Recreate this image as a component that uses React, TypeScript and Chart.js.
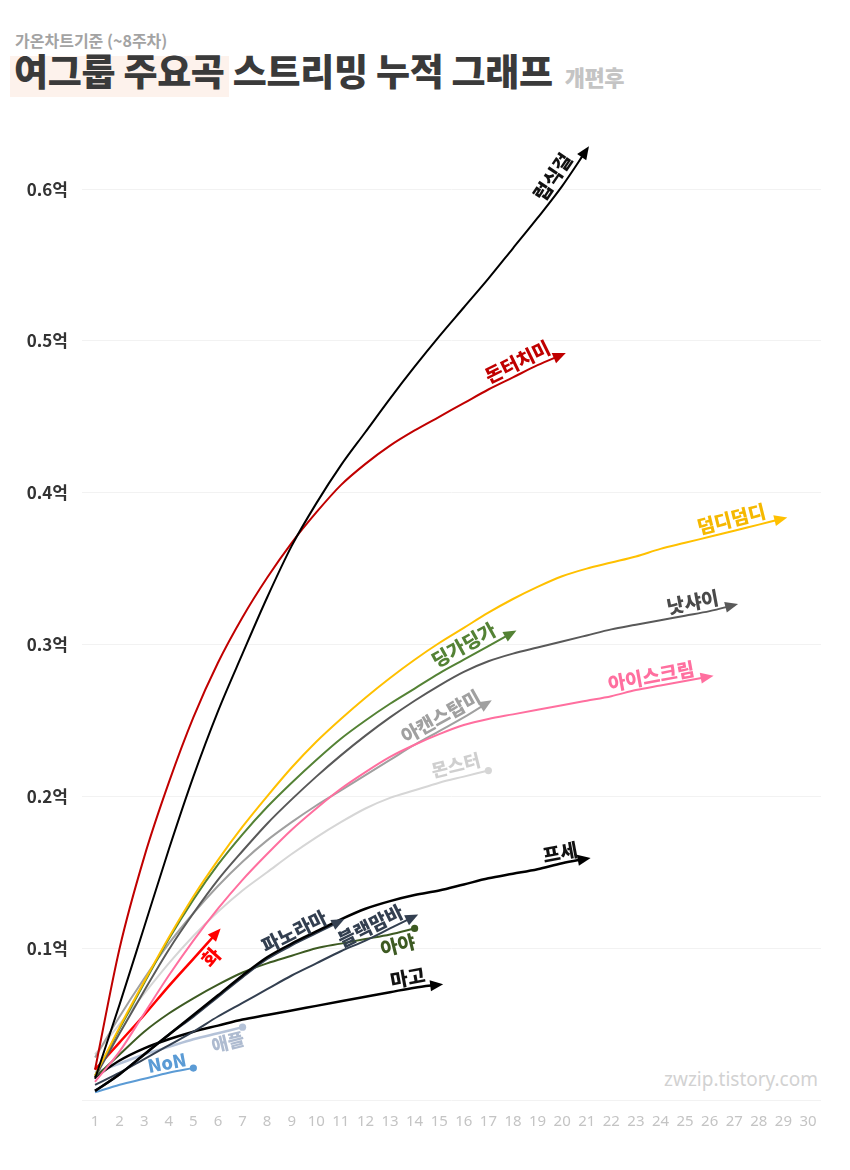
import React, { useEffect, useRef } from "react";
import { Chart, registerables } from "chart.js";

Chart.register(...registerables);

// ---- data (cumulative streams, unit: 억) ----
const weeks = [1, 2, 3, 4, 5, 6, 7, 8, 9, 10, 11, 12, 13, 14, 15, 16, 17, 18, 19, 20, 21, 22, 23, 24, 25, 26, 27, 28, 29, 30];
const yTickValues = [0, 0.1, 0.2, 0.3, 0.4, 0.5, 0.6];

const songNames = ["럽식걸", "돈터치미", "덤디덤디", "낫샤이", "딩가딩가", "아이스크림", "아캔스탑미", "몬스터", "프세", "파노라마", "블랙맘바", "아야", "마고", "화", "애플", "NoN"];

const lovesickGirls = [0.014, 0.063, 0.114, 0.165, 0.213, 0.256, 0.294, 0.331, 0.365, 0.393, 0.418, 0.44, 0.462, 0.483, 0.503, 0.522, 0.541, 0.561, 0.581, 0.602, 0.626];
const dontTouchMe = [0.02, 0.1, 0.16, 0.209, 0.252, 0.288, 0.318, 0.344, 0.367, 0.387, 0.405, 0.419, 0.431, 0.441, 0.45, 0.459, 0.468, 0.476, 0.484, 0.491];
const dumdiDumdi = [0.016, 0.048, 0.078, 0.107, 0.134, 0.158, 0.18, 0.2, 0.219, 0.236, 0.251, 0.265, 0.278, 0.29, 0.301, 0.311, 0.321, 0.33, 0.338, 0.345, 0.35, 0.354, 0.358, 0.363, 0.367, 0.371, 0.375, 0.379, 0.383];
const notShy = [0.015, 0.044, 0.072, 0.099, 0.123, 0.145, 0.164, 0.182, 0.198, 0.213, 0.227, 0.24, 0.252, 0.263, 0.273, 0.282, 0.289, 0.294, 0.298, 0.302, 0.306, 0.31, 0.313, 0.316, 0.319, 0.322, 0.326];
const dingaDinga = [0.016, 0.047, 0.077, 0.106, 0.132, 0.155, 0.175, 0.193, 0.209, 0.224, 0.238, 0.25, 0.261, 0.271, 0.281, 0.29, 0.299, 0.308];
const iceCream = [0.012, 0.032, 0.057, 0.082, 0.105, 0.126, 0.145, 0.162, 0.178, 0.192, 0.205, 0.216, 0.226, 0.234, 0.241, 0.247, 0.251, 0.254, 0.257, 0.26, 0.263, 0.266, 0.27, 0.273, 0.276, 0.279];
const iCantStopMe = [0.028, 0.055, 0.08, 0.103, 0.123, 0.141, 0.157, 0.171, 0.183, 0.194, 0.204, 0.214, 0.224, 0.234, 0.243, 0.252, 0.262];
const monster = [0.03, 0.05, 0.07, 0.09, 0.108, 0.124, 0.138, 0.15, 0.162, 0.173, 0.183, 0.192, 0.199, 0.204, 0.209, 0.213, 0.217];
const feelSpecial = [0.006, 0.017, 0.03, 0.043, 0.056, 0.069, 0.082, 0.094, 0.103, 0.111, 0.119, 0.126, 0.131, 0.135, 0.138, 0.142, 0.146, 0.149, 0.152, 0.156, 0.159];
const panorama = [0.006, 0.017, 0.03, 0.043, 0.055, 0.068, 0.081, 0.093, 0.102, 0.11, 0.118];
const blackMamba = [0.01, 0.018, 0.027, 0.036, 0.045, 0.055, 0.064, 0.073, 0.082, 0.09, 0.098, 0.105, 0.113, 0.121];
const aya = [0.015, 0.03, 0.045, 0.057, 0.067, 0.076, 0.084, 0.09, 0.095, 0.1, 0.103, 0.106, 0.109, 0.113];
const mago = [0.015, 0.026, 0.034, 0.04, 0.045, 0.049, 0.053, 0.056, 0.059, 0.062, 0.065, 0.068, 0.071, 0.074, 0.076];
const hwa = [0.02, 0.038, 0.056, 0.075, 0.093, 0.111];
const apple = [0.018, 0.024, 0.03, 0.035, 0.04, 0.044, 0.048];
const nonSong = [0.005, 0.01, 0.014, 0.018, 0.021];

const seriesValues = [lovesickGirls, dontTouchMe, dumdiDumdi, notShy, dingaDinga, iceCream, iCantStopMe, monster, feelSpecial, panorama, blackMamba, aya, mago, hwa, apple, nonSong];

// ---- styles (colour, line width, end mark, label placement) ----
const seriesStyles = [
  { color: "#000000", label: "#111111", width: 2, end: "arrow", t: 20.05, off: -13, size: 19 },
  { color: "#c00000", label: "#c00000", width: 2, end: "arrow", t: 18.4, off: -12, size: 19 },
  { color: "#ffc000", label: "#f5b800", width: 2, end: "arrow", t: 27.0, off: -12, size: 19 },
  { color: "#595959", label: "#4a4a4a", width: 2, end: "arrow", t: 25.4, off: -12, size: 19 },
  { color: "#548235", label: "#548235", width: 2, end: "arrow", t: 16.25, off: -13, size: 19 },
  { color: "#ff6f9f", label: "#ff6f9f", width: 2, end: "arrow", t: 23.7, off: -11, size: 19 },
  { color: "#a0a0a0", label: "#a0a0a0", width: 2, end: "arrow", t: 15.3, off: -12, size: 19 },
  { color: "#d6d6d6", label: "#cfcfcf", width: 2, end: "dot", t: 15.8, off: -13, size: 18 },
  { color: "#000000", label: "#111111", width: 2.5, end: "arrow", t: 20.0, off: -11, size: 19 },
  { color: "#333f50", label: "#333f50", width: 2.5, end: "arrow", t: 9.3, off: -11, size: 19 },
  { color: "#333f50", label: "#333f50", width: 2, end: "arrow", t: 12.4, off: -11, size: 19 },
  { color: "#3d5a22", label: "#3d5a22", width: 2, end: "dot", t: 13.2, off: 12, size: 19 },
  { color: "#000000", label: "#111111", width: 2.5, end: "arrow", t: 13.8, off: -11, size: 19 },
  { color: "#ff0000", label: "#ff0000", width: 2.5, end: "arrow", t: 5.35, off: 12, size: 19 },
  { color: "#b4c2d8", label: "#aebbd0", width: 2.5, end: "dot", t: 6.3, off: 11, size: 18 },
  { color: "#5b9bd5", label: "#5b9bd5", width: 2, end: "dot", t: 4.0, off: -10, size: 18 },
];

const FONT = "'Noto Sans CJK KR', 'Noto Sans', sans-serif";

const decorPlugin = {
  id: "decor",
  afterDatasetsDraw(chart: any) {
    const ctx = chart.ctx;
    const xs = chart.scales.x;
    chart.data.datasets.forEach((ds: any, i: number) => {
      const st = seriesStyles[i];
      const pts = chart.getDatasetMeta(i).data;
      const n = pts.length;
      const last = pts[n - 1];
      const prev = pts[n - 2];
      let dx = last.x - (last.cp1x ?? prev.x);
      let dy = last.y - (last.cp1y ?? prev.y);
      if (Math.hypot(dx, dy) < 0.5) {
        dx = last.x - prev.x;
        dy = last.y - prev.y;
      }
      const len = Math.hypot(dx, dy) || 1;
      const ux = dx / len;
      const uy = dy / len;
      ctx.save();
      ctx.fillStyle = st.color;
      if (st.end === "arrow") {
        const tipX = last.x + ux * 4;
        const tipY = last.y + uy * 4;
        const bx = tipX - ux * 13;
        const by = tipY - uy * 13;
        ctx.beginPath();
        ctx.moveTo(tipX, tipY);
        ctx.lineTo(bx - uy * 5.5, by + ux * 5.5);
        ctx.lineTo(bx + uy * 5.5, by - ux * 5.5);
        ctx.closePath();
        ctx.fill();
      } else {
        ctx.beginPath();
        ctx.arc(last.x, last.y, 3.6, 0, Math.PI * 2);
        ctx.fill();
      }
      // label along the line
      const x0 = ds.data[0].x;
      const k = Math.min(Math.max(Math.floor(st.t - x0), 0), n - 2);
      const p1 = pts[k];
      const p2 = pts[k + 1];
      const f = (xs.getPixelForValue(st.t) - p1.x) / (p2.x - p1.x);
      const px = p1.x + (p2.x - p1.x) * f;
      const py = p1.y + (p2.y - p1.y) * f;
      const ang = Math.atan2(p2.y - p1.y, p2.x - p1.x);
      const nx = Math.sin(ang);
      const ny = -Math.cos(ang);
      const lx = px - nx * st.off;
      const ly = py - ny * st.off;
      ctx.translate(lx, ly);
      ctx.rotate(ang);
      ctx.font = `900 ${st.size}px ${FONT}`;
      ctx.fillStyle = st.label;
      ctx.textAlign = "center";
      ctx.textBaseline = "middle";
      ctx.fillText(songNames[i], 0, 0);
      ctx.restore();
    });
  },
};

export default function App() {
  const canvasRef = useRef<HTMLCanvasElement>(null);

  useEffect(() => {
    const canvas = canvasRef.current;
    if (!canvas) return;
    const datasets = seriesValues.map((vals, i) => ({
      label: songNames[i],
      data: vals.map((v, j) => ({ x: weeks[j], y: v })),
      borderColor: seriesStyles[i].color,
      backgroundColor: seriesStyles[i].color,
      borderWidth: seriesStyles[i].width,
      pointRadius: 0,
      cubicInterpolationMode: "monotone" as const,
      fill: false,
      clip: false as any,
    }));
    const chart = new Chart(canvas, {
      type: "line",
      data: { datasets },
      options: {
        animation: false,
        responsive: false,
        maintainAspectRatio: false,
        layout: { padding: { top: 98, right: 29, left: 0, bottom: 0 } },
        plugins: { legend: { display: false }, tooltip: { enabled: false } },
        scales: {
          x: {
            type: "linear",
            min: 0.47,
            max: 30.53,
            grid: { display: false },
            border: { display: false },
            afterBuildTicks: (ax: any) => {
              ax.ticks = weeks.map((v) => ({ value: v }));
            },
            afterFit: (ax: any) => {
              ax.height = 70;
            },
            ticks: {
              color: "#c4c4c4",
              padding: 5,
              autoSkip: false,
              maxRotation: 0,
              font: { size: 15, family: "'Liberation Sans Narrow', 'Noto Sans', sans-serif" },
              callback: (v: any) => String(v),
            },
          },
          y: {
            min: 0,
            max: 0.66,
            afterBuildTicks: (ax: any) => {
              ax.ticks = yTickValues.map((v) => ({ value: v }));
            },
            afterFit: (ax: any) => {
              ax.width = 82;
            },
            grid: { color: "#f2f2f2", drawTicks: false, lineWidth: 1 },
            border: { display: false },
            ticks: {
              padding: 14,
              color: "#333333",
              font: { size: 17, weight: "bold", family: FONT },
              callback: (v: any) => (v === 0 ? "" : Number(v).toFixed(1) + "억"),
            },
          },
        },
      },
      plugins: [decorPlugin],
    });
    return () => chart.destroy();
  }, []);

  return (
    <div style={{ position: "absolute", left: 0, top: 0, width: 850, height: 1170, background: "#ffffff", overflow: "hidden", fontFamily: FONT }}>
      <div style={{ position: "absolute", left: 10, top: 56, width: 219, height: 41, background: "#fdf2ec" }} />
      <div style={{ position: "absolute", left: 15, top: 32, fontSize: 16, lineHeight: "16px", fontWeight: 700, color: "#a3a3a3", whiteSpace: "nowrap" }}>
        가온차트기준 (~8주차)
      </div>
      <div style={{ position: "absolute", left: 14, top: 52, fontSize: 37, lineHeight: "37px", fontWeight: 900, color: "#3a3a3a", letterSpacing: "-0.3px", whiteSpace: "nowrap" }}>
        여그룹 주요곡 스트리밍 누적 그래프
        <span style={{ fontSize: 22, color: "#c4c4c4", marginLeft: 12, letterSpacing: "-0.5px" }}>개편후</span>
      </div>
      <div style={{ position: "absolute", right: 32, top: 1070, fontSize: 19, lineHeight: "19px", color: "#d2d2d2", fontFamily: "'Noto Sans', sans-serif", whiteSpace: "nowrap" }}>
        zwzip.tistory.com
      </div>
      <canvas ref={canvasRef} width={850} height={1170} style={{ position: "absolute", left: 0, top: 0, width: 850, height: 1170 }} />
    </div>
  );
}
